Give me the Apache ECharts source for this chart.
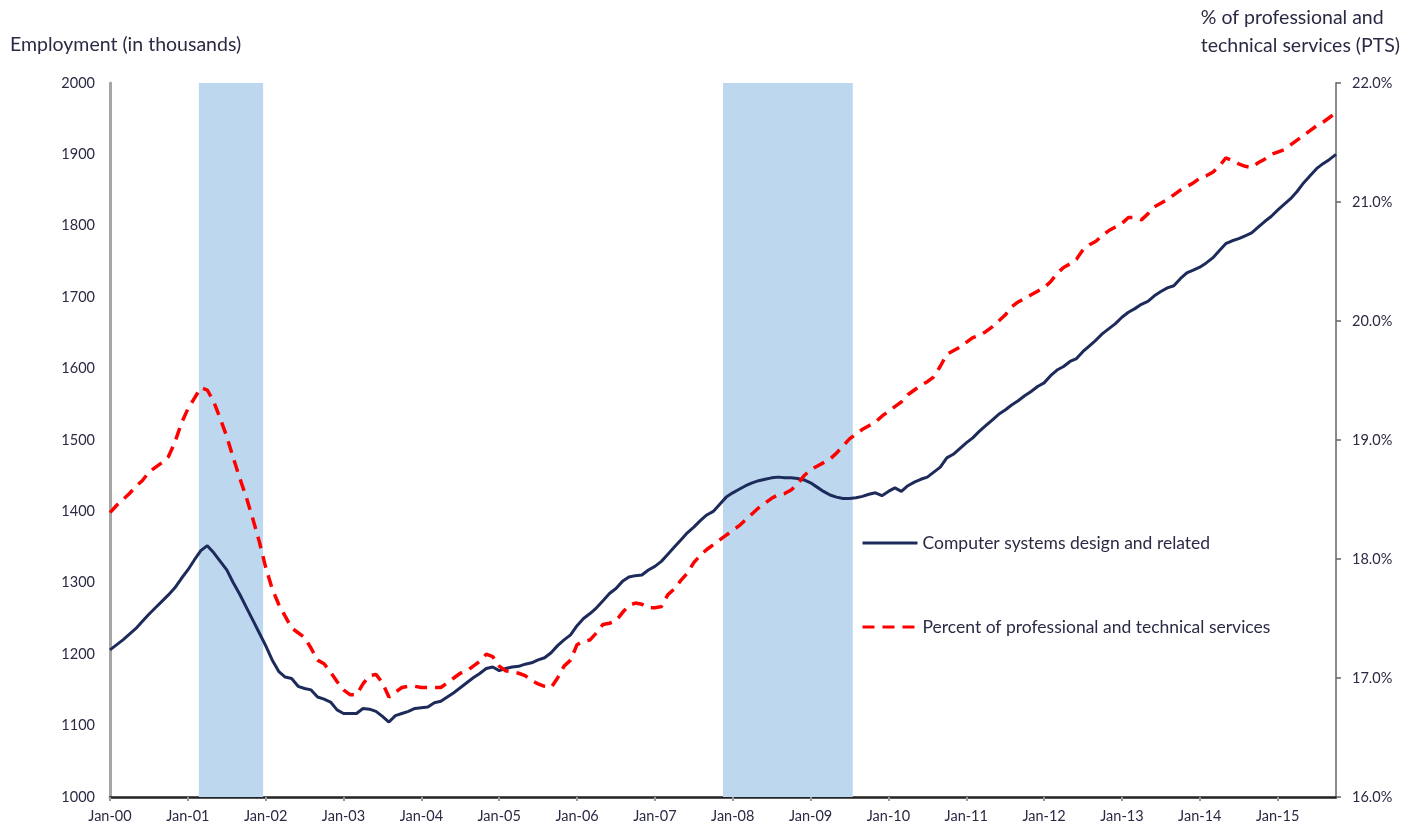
<!DOCTYPE html>
<html>
<head>
<meta charset="utf-8">
<title>Computer systems design employment</title>
<script src="https://cdn.jsdelivr.net/npm/echarts@6/dist/echarts.min.js"></script>
<style>
  html, body { margin: 0; padding: 0; background: #fff; }
  #main { width: 1410px; height: 829px; }
</style>
</head>
<body>
<div id="main"></div>
<script>
// months since Jan 2000, one value per month (Jan-00 .. Oct-15)
var yearLabels = ['Jan-00', 'Jan-01', 'Jan-02', 'Jan-03', 'Jan-04', 'Jan-05', 'Jan-06', 'Jan-07',
    'Jan-08', 'Jan-09', 'Jan-10', 'Jan-11', 'Jan-12', 'Jan-13', 'Jan-14', 'Jan-15'];

// employment, thousands
var computerJobs = [
    1206, 1213, 1220, 1228, 1236, 1246, 1256, 1265, 1274, 1283, 1293, 1306,
    1318, 1332, 1345, 1352, 1342, 1330, 1318, 1300, 1284, 1266, 1248, 1230,
    1212, 1192, 1176, 1168, 1166, 1155, 1152, 1150, 1140, 1137, 1133, 1122,
    1117, 1117, 1117, 1124, 1123, 1120, 1113, 1105, 1114, 1117, 1120, 1124,
    1125, 1126, 1132, 1134, 1140, 1146, 1153, 1160, 1167, 1173, 1180, 1182,
    1177, 1180, 1182, 1183, 1186, 1188, 1192, 1195, 1202, 1212, 1220, 1227,
    1240, 1250, 1257, 1265, 1275, 1285, 1292, 1302, 1308, 1310, 1311, 1318,
    1323, 1330, 1340, 1350, 1360, 1370, 1378, 1387, 1395, 1400, 1410, 1420,
    1426, 1431, 1436, 1440, 1443, 1445, 1447, 1448, 1447, 1447, 1446, 1444,
    1440, 1434, 1428, 1423, 1420, 1418, 1418, 1419, 1421, 1424, 1426, 1422,
    1428, 1433, 1428, 1436, 1441, 1445, 1448, 1455, 1462, 1475, 1480, 1488,
    1496, 1503, 1512, 1520, 1528, 1536, 1542, 1549, 1555, 1562, 1568, 1575,
    1580, 1590, 1598, 1603, 1610, 1614, 1624, 1632, 1640, 1649, 1656, 1663,
    1672, 1679, 1684, 1690, 1694, 1702, 1708, 1713, 1716, 1726, 1734, 1738,
    1742, 1748, 1755, 1765, 1775, 1779, 1782, 1786, 1790, 1798, 1806, 1813,
    1822, 1830, 1838, 1848, 1860, 1870, 1880, 1887, 1893, 1900
];

// share of professional and technical services, percent
var ptsShare = [
    18.39, 18.45, 18.50, 18.55, 18.61, 18.66, 18.73, 18.77, 18.81, 18.86, 18.98, 19.14,
    19.26, 19.35, 19.44, 19.42, 19.32, 19.18, 19.03, 18.85, 18.68, 18.52, 18.34, 18.15,
    17.93, 17.75, 17.62, 17.52, 17.42, 17.38, 17.34, 17.25, 17.15, 17.12, 17.05, 16.97,
    16.90, 16.86, 16.86, 16.95, 17.02, 17.03, 16.96, 16.84, 16.88, 16.92, 16.93, 16.93,
    16.92, 16.92, 16.92, 16.92, 16.96, 17.00, 17.04, 17.06, 17.10, 17.14, 17.20, 17.18,
    17.10, 17.06, 17.05, 17.04, 17.02, 16.98, 16.95, 16.93, 16.92, 17.00, 17.10, 17.15,
    17.28, 17.31, 17.32, 17.38, 17.45, 17.46, 17.48, 17.55, 17.61, 17.63, 17.62, 17.59,
    17.59, 17.60, 17.70, 17.75, 17.82, 17.88, 17.97, 18.03, 18.08, 18.12, 18.16, 18.20,
    18.24, 18.28, 18.33, 18.38, 18.43, 18.47, 18.51, 18.54, 18.55, 18.58, 18.63, 18.70,
    18.75, 18.78, 18.81, 18.84, 18.89, 18.95, 19.01, 19.05, 19.09, 19.12, 19.15, 19.20,
    19.24, 19.28, 19.32, 19.38, 19.42, 19.46, 19.49, 19.53, 19.62, 19.72, 19.75, 19.78,
    19.82, 19.86, 19.88, 19.91, 19.95, 20.00, 20.05, 20.12, 20.16, 20.19, 20.22, 20.25,
    20.28, 20.33, 20.40, 20.45, 20.48, 20.52, 20.60, 20.64, 20.67, 20.72, 20.76, 20.79,
    20.82, 20.87, 20.87, 20.85, 20.90, 20.96, 20.99, 21.02, 21.06, 21.10, 21.13, 21.16,
    21.20, 21.22, 21.25, 21.30, 21.37, 21.35, 21.32, 21.30, 21.29, 21.33, 21.36, 21.40,
    21.42, 21.44, 21.48, 21.52, 21.56, 21.60, 21.64, 21.67, 21.71, 21.75
];

// recession shading, in months since Jan 2000
var recessions = [[13.7, 23.6], [94.5, 114.5]];

var textColor = '#2a2a44';
var font = 'Lato';

function toPairs(arr) {
    return arr.map(function (v, i) { return [i, v]; });
}

var chart = echarts.init(document.getElementById('main'));

chart.setOption({
    animation: false,
    textStyle: { fontFamily: font },
    grid: { left: 110, right: 74, top: 83, bottom: 32 },
    graphic: [{
        type: 'text', left: 10, top: 35,
        style: { text: 'Employment (in thousands)', fill: textColor, font: '19.5px ' + font }
    }, {
        type: 'text', right: 10, top: 4,
        style: {
            text: '% of professional and\ntechnical services (PTS)', fill: textColor,
            font: '19.5px ' + font, align: 'center', lineHeight: 28
        }
    }],
    legend: {
        data: ['Computer systems design and related', 'Percent of professional and technical services'],
        orient: 'vertical',
        left: 856,
        top: 529,
        itemWidth: 55,
        itemHeight: 16,
        itemGap: 66,
        itemStyle: { opacity: 0 },
        lineStyle: { width: 3 },
        textStyle: { color: textColor, fontSize: 17.5, fontFamily: font }
    },
    xAxis: {
        type: 'value',
        min: 0,
        max: computerJobs.length - 1,
        interval: 12,
        splitLine: { show: false },
        axisLine: { lineStyle: { color: '#222', width: 2.5 } },
        axisTick: { length: 4, lineStyle: { color: '#999', width: 2 } },
        axisLabel: {
            color: textColor, fontSize: 14.5, margin: 12, showMaxLabel: false,
            formatter: function (v) { return yearLabels[v / 12] || ''; }
        }
    },
    yAxis: [{
        type: 'value',
        min: 1000,
        max: 2000,
        interval: 100,
        splitLine: { show: false },
        axisLine: { show: true, lineStyle: { color: '#a6a6a6', width: 3 } },
        axisTick: { show: false },
        axisLabel: {
            color: textColor, fontSize: 14.5, margin: 15,
            formatter: function (v) { return String(v); }
        }
    }, {
        type: 'value',
        min: 16,
        max: 22,
        interval: 1,
        splitLine: { show: false },
        axisLine: { show: true, lineStyle: { color: '#8c8c8c', width: 2 } },
        axisTick: { show: true, length: 5, lineStyle: { color: '#666', width: 1.5 } },
        axisLabel: {
            color: textColor, fontSize: 14.5, margin: 16,
            formatter: function (v) { return v.toFixed(1) + '%'; }
        }
    }],
    series: [{
        name: 'recessions',
        type: 'line',
        data: [],
        z: 1,
        silent: true,
        markArea: {
            silent: true,
            itemStyle: { color: '#bdd7ee', opacity: 1 },
            data: recessions.map(function (r) {
                return [{ xAxis: r[0] }, { xAxis: r[1] }];
            })
        }
    }, {
        name: 'Computer systems design and related',
        type: 'line',
        yAxisIndex: 0,
        z: 3,
        symbol: 'none',
        color: '#1c2b5a',
        lineStyle: { color: '#1c2b5a', width: 3 },
        data: toPairs(computerJobs)
    }, {
        name: 'Percent of professional and technical services',
        type: 'line',
        yAxisIndex: 1,
        z: 4,
        symbol: 'none',
        color: '#ff0000',
        lineStyle: { color: '#ff0000', width: 3.5, type: [12, 8] },
        data: toPairs(ptsShare)
    }]
});

window.onresize = chart.resize;
</script>
</body>
</html>
